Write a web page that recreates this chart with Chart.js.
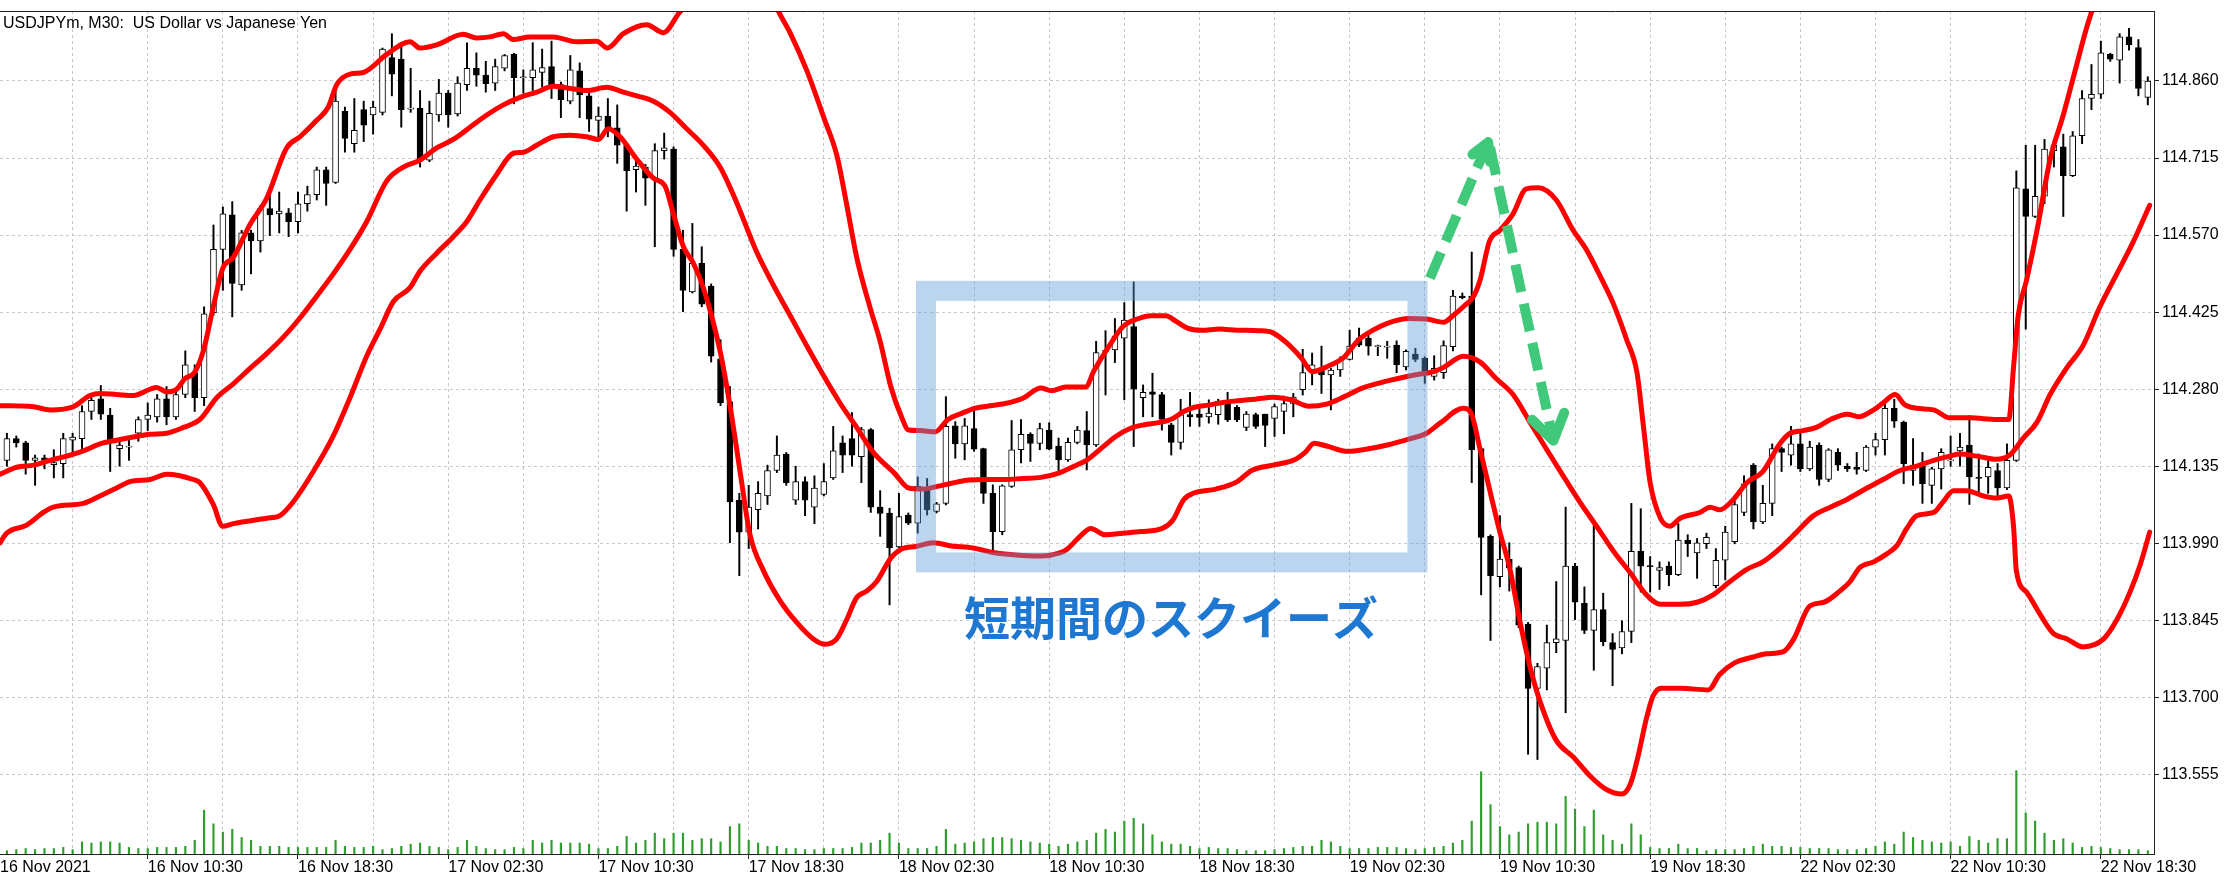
<!DOCTYPE html>
<html><head><meta charset="utf-8">
<style>html,body{margin:0;padding:0;background:#fff;overflow:hidden}canvas{display:block}</style>
<script src="https://cdn.jsdelivr.net/npm/chart.js@4.4.1/dist/chart.umd.min.js"></script>
</head><body>
<canvas id="c" width="2228" height="884"></canvas>
<script>
// ---- data: USDJPYm M30, first bar = 16 Nov 2021 03:00 ----
const chartTitle = 'USDJPYm, M30:  US Dollar vs Japanese Yen';
const firstDateLabel = '16 Nov 2021';
const xTickLabels = ['16 Nov 10:30','16 Nov 18:30','17 Nov 02:30','17 Nov 10:30','17 Nov 18:30','18 Nov 02:30','18 Nov 10:30','18 Nov 18:30','19 Nov 02:30','19 Nov 10:30','19 Nov 18:30','22 Nov 02:30','22 Nov 10:30','22 Nov 18:30'];
const xTickBars = [15,31,47,63,79,95,111,127,143,159,175,191,207,223];
const xGridBars = [7,15,23,31,39,47,55,63,71,79,87,95,103,111,119,127,135,143,151,159,167,175,183,191,199,207,215,223];
const yTicks = [113.555,113.700,113.845,113.990,114.135,114.280,114.425,114.570,114.715,114.860];

const opens = [114.146,114.187,114.179,114.146,114.151,114.138,114.140,114.184,114.187,114.238,
114.262,114.231,114.168,114.171,114.197,114.223,114.228,114.262,114.228,114.270,
114.311,114.264,114.424,114.543,114.608,114.476,114.574,114.559,114.620,114.610,
114.612,114.595,114.629,114.646,114.693,114.669,114.803,114.742,114.806,114.796,
114.801,114.904,114.901,114.807,114.809,114.711,114.796,114.837,114.798,114.853,
114.884,114.871,114.856,114.884,114.910,114.866,114.866,114.876,114.887,114.853,
114.822,114.879,114.832,114.786,114.794,114.772,114.739,114.693,114.698,114.677,
114.729,114.732,114.543,114.463,114.517,114.474,114.337,114.256,114.071,114.011,
114.053,114.079,114.127,114.158,114.071,114.106,114.058,114.082,114.113,114.179,
114.187,114.153,114.204,114.058,114.047,113.983,114.043,114.028,114.090,114.050,
114.065,114.211,114.177,114.206,114.168,114.084,114.012,114.097,114.166,114.195,
114.178,114.203,114.173,114.147,114.180,114.202,114.175,114.351,114.354,114.376,
114.398,114.264,114.275,114.270,114.213,114.180,114.232,114.233,114.228,114.232,
114.255,114.246,114.208,114.232,114.233,114.225,114.238,114.253,114.279,114.316,
114.317,114.307,114.316,114.336,114.376,114.376,114.360,114.359,114.363,114.322,
114.346,114.338,114.304,114.311,114.360,114.455,114.455,114.168,114.003,113.927,
113.960,113.944,113.838,113.717,113.755,113.803,113.807,113.947,113.877,113.826,
113.865,113.803,113.793,113.824,113.975,113.948,113.939,113.947,113.931,113.996,
113.972,113.989,113.910,113.958,113.993,114.048,114.137,114.030,114.065,114.168,
114.156,114.177,114.130,114.175,114.110,114.161,114.135,114.133,114.127,114.171,
114.185,114.244,114.218,114.127,114.137,114.099,114.130,114.145,114.164,114.175,
114.113,114.115,114.127,114.094,114.146,114.657,114.605,114.643,114.729,114.736,
114.682,114.757,114.827,114.835,114.910,114.899,114.943,114.923,114.829];

const highs = [114.197,114.192,114.182,114.156,114.156,114.166,114.197,114.197,114.249,114.264,
114.287,114.244,114.187,114.187,114.228,114.254,114.270,114.285,114.275,114.352,
114.326,114.435,114.589,114.623,114.633,114.579,114.579,114.626,114.649,114.651,
114.620,114.651,114.662,114.698,114.698,114.842,114.811,114.827,114.822,114.822,
114.922,114.949,114.932,114.884,114.842,114.822,114.863,114.842,114.868,114.932,
114.913,114.897,114.901,114.910,114.912,114.881,114.932,114.920,114.935,114.858,
114.908,114.894,114.837,114.811,114.827,114.815,114.742,114.719,114.703,114.742,
114.762,114.736,114.579,114.592,114.548,114.478,114.373,114.285,114.084,114.099,
114.106,114.137,114.192,114.161,114.135,114.115,114.117,114.140,114.210,114.192,
114.236,114.208,114.206,114.089,114.056,114.084,114.047,114.115,114.112,114.067,
114.266,114.219,114.225,114.247,114.169,114.100,114.100,114.221,114.223,114.198,
114.216,114.217,114.188,114.188,114.210,114.238,114.370,114.390,114.413,114.443,
114.482,114.288,114.310,114.274,114.216,114.261,114.274,114.250,114.260,114.261,
114.274,114.249,114.238,114.235,114.233,114.252,114.267,114.272,114.355,114.348,
114.361,114.319,114.341,114.391,114.395,114.382,114.363,114.370,114.371,114.354,
114.357,114.341,114.343,114.371,114.466,114.461,114.538,114.171,114.006,114.042,
113.991,113.947,113.841,113.764,113.836,113.918,114.058,113.952,113.908,114.024,
113.896,113.820,113.844,114.065,114.055,113.965,113.955,113.955,114.027,114.006,
113.999,114.009,113.980,114.022,114.073,114.117,114.140,114.099,114.177,114.171,
114.210,114.197,114.182,114.179,114.168,114.168,114.140,114.161,114.174,114.197,
114.261,114.261,114.220,114.187,114.161,114.133,114.168,114.192,114.197,114.230,
114.158,114.148,114.140,114.177,114.691,114.739,114.739,114.750,114.750,114.760,
114.765,114.842,114.891,114.935,114.912,114.949,114.959,114.938,114.868];

const lows = [114.135,114.171,114.120,114.099,114.130,114.113,114.113,114.161,114.161,114.223,
114.223,114.125,114.135,114.146,114.182,114.202,114.218,114.213,114.223,114.264,
114.238,114.249,114.419,114.466,114.416,114.466,114.497,114.538,114.569,114.574,
114.567,114.574,114.615,114.636,114.626,114.667,114.726,114.726,114.746,114.760,
114.796,114.832,114.773,114.801,114.698,114.708,114.784,114.773,114.794,114.842,
114.850,114.839,114.842,114.879,114.817,114.837,114.842,114.848,114.827,114.791,
114.817,114.791,114.765,114.755,114.755,114.705,114.615,114.651,114.626,114.548,
114.713,114.530,114.426,114.461,114.435,114.331,114.249,113.991,113.929,113.980,
114.017,114.063,114.123,114.099,114.063,114.042,114.027,114.079,114.110,114.123,
114.135,114.104,114.048,114.003,113.874,113.981,114.025,114.009,114.043,114.047,
114.062,114.150,114.147,114.163,114.065,113.974,114.006,114.095,114.141,114.144,
114.166,114.166,114.122,114.144,114.177,114.128,114.172,114.269,114.330,114.260,
114.172,114.228,114.228,114.203,114.156,114.167,114.210,114.210,114.216,114.214,
114.219,114.219,114.202,114.206,114.172,114.191,114.196,114.228,114.269,114.288,
114.272,114.241,114.304,114.335,114.360,114.344,114.343,114.338,114.311,114.316,
114.332,114.291,114.297,114.300,114.352,114.450,114.104,113.893,113.807,113.908,
113.900,113.831,113.593,113.583,113.714,113.784,113.671,113.846,113.820,113.751,
113.797,113.722,113.782,113.803,113.898,113.898,113.903,113.910,113.929,113.965,
113.924,113.980,113.906,113.921,113.989,114.042,114.017,114.027,114.042,114.125,
114.137,114.125,114.127,114.099,114.106,114.127,114.125,114.120,114.125,114.156,
114.156,114.208,114.102,114.099,114.065,114.065,114.092,114.135,114.135,114.063,
114.084,114.084,114.079,114.091,114.144,114.393,114.603,114.629,114.698,114.605,
114.680,114.742,114.806,114.827,114.897,114.856,114.918,114.832,114.815];

const closes = [114.187,114.179,114.146,114.151,114.146,114.142,114.187,114.190,114.238,114.259,
114.233,114.184,114.175,114.173,114.223,114.231,114.262,114.228,114.270,114.326,
114.264,114.422,114.543,114.610,114.479,114.574,114.559,114.620,114.608,114.615,
114.595,114.629,114.646,114.693,114.667,114.822,114.752,114.767,114.777,114.811,
114.920,114.873,114.806,114.809,114.711,114.799,114.837,114.796,114.856,114.884,
114.871,114.855,114.887,114.908,114.866,114.867,114.881,114.885,114.853,114.825,
114.881,114.834,114.788,114.794,114.770,114.739,114.691,114.700,114.677,114.729,
114.734,114.543,114.466,114.517,114.440,114.342,114.254,114.068,114.011,114.058,
114.084,114.127,114.156,114.104,114.106,114.071,114.094,114.106,114.164,114.156,
114.156,114.204,114.058,114.046,113.981,114.040,114.028,114.097,114.053,114.064,
114.210,114.177,114.211,114.167,114.084,114.012,114.098,114.166,114.195,114.178,
114.206,114.167,114.147,114.180,114.203,114.175,114.349,114.353,114.380,114.410,
114.280,114.274,114.270,114.223,114.180,114.232,114.228,114.227,114.235,114.257,
114.222,114.222,114.233,114.210,114.212,114.247,114.253,114.265,114.311,114.326,
114.307,114.316,114.336,114.361,114.363,114.361,114.361,114.361,114.326,114.351,
114.336,114.307,114.319,114.362,114.455,114.452,114.166,114.001,113.929,113.960,
113.944,113.836,113.717,113.758,113.803,113.810,113.947,113.879,113.826,113.865,
113.805,113.790,113.824,113.975,113.947,113.946,113.944,113.931,113.996,113.989,
113.991,114.001,113.958,114.011,114.063,114.102,114.030,114.065,114.168,114.161,
114.177,114.130,114.171,114.110,114.166,114.137,114.130,114.129,114.171,114.185,
114.244,114.220,114.140,114.137,114.102,114.130,114.161,114.146,114.171,114.115,
114.112,114.133,114.094,114.146,114.659,114.605,114.643,114.732,114.739,114.682,
114.757,114.827,114.835,114.913,114.901,114.943,114.928,114.846,114.860];

const volumes = [6,8,10,8,10,10,12,8,22,20,
22,22,20,12,10,10,12,12,12,14,
25,80,55,40,45,30,25,14,14,14,
12,12,12,12,12,25,14,12,12,14,
8,10,14,18,20,14,12,8,12,25,
14,10,8,8,12,10,25,20,25,20,
20,20,18,10,10,14,32,20,25,38,
28,38,38,25,28,28,22,50,55,25,
20,14,14,10,10,8,8,10,10,10,
12,20,20,25,38,20,10,10,10,14,
45,18,20,22,28,30,30,28,25,22,
20,18,14,18,22,25,38,45,40,60,
65,55,35,22,18,18,14,10,12,10,
10,8,6,6,6,8,10,12,14,14,
25,22,14,10,10,10,12,12,12,10,
8,10,12,14,20,25,60,150,90,50,
35,40,55,58,58,55,105,82,50,80,
35,25,18,55,35,12,10,10,18,10,
10,6,8,8,8,10,14,18,14,14,
12,12,10,10,10,8,8,8,10,14,
22,18,40,30,25,22,20,22,14,32,
25,20,28,28,152,75,60,38,25,28,
20,12,14,12,10,8,8,8,6];

// Bollinger Bands (20, 2): [bar, price]
const upperBand = [[-0.73,114.249],[2.82,114.247],[4.59,114.241],[7.07,114.247],[8.85,114.268],[9.91,114.272],[11.69,114.270],[13.46,114.268],[15.95,114.283],[17.01,114.275],[18.08,114.280],[18.97,114.300],[19.96,114.311],[20.92,114.352],[21.98,114.435],[22.98,114.507],[24.11,114.528],[25.89,114.590],[27.66,114.639],[29.79,114.734],[31.21,114.755],[32.99,114.786],[34.23,114.811],[35.12,114.853],[36.54,114.873],[37.96,114.876],
[40.45,114.910],[42.93,114.934],[43.99,114.922],[45.77,114.928],[48.61,114.948],[50.03,114.941],[51.45,114.943],[52.87,114.949],[53.93,114.938],[55.71,114.943],[58.19,114.943],[60.68,114.934],[62.81,114.935],[63.94,114.922],[65.65,114.949],[68.13,114.966],[69.91,114.951],[71.68,114.990],
[73.5,115.02],[75.5,115.04],[77.5,115.06],[79.5,115.07],[81,115.04],
[82.0,114.997],[83.4,114.951],[85.2,114.879],[87.0,114.791],[88.4,114.719],[89.4,114.631],[90.5,114.528],[91.9,114.435],[93.0,114.37],[94.13,114.285],[95.27,114.228],[96.03,114.203],[97.17,114.202],[98.89,114.200],[100.22,114.223],[101.74,114.235],[103.07,114.244],[104.40,114.248],[106.30,114.253],[108.21,114.263],[110.11,114.282],[111.25,114.277],[112.77,114.284],[114.86,114.284],[115.81,114.316],[117.34,114.360],[118.86,114.398],[120.38,114.412],[121.90,114.418],[123.42,114.418],[124.56,114.407],[125.71,114.395],[127.23,114.391],[129.13,114.393],[131.03,114.391],[133.31,114.390],[134.83,114.386],[136.36,114.366],[137.88,114.338],[139.01,114.313],[140.54,114.322],[142.44,114.341],[143.96,114.373],[145.48,114.391],[147.01,114.404],[149.29,114.413],[151.19,114.412],
[153.0,114.406],[154.05,114.419],[155.1,114.435],[156.2,114.455],[156.9,114.486],[157.9,114.559],
[159.0,114.579],[160.4,114.610],[161.8,114.657],[163.1,114.659],[165.0,114.636],[166.8,114.579],[168.2,114.543],[169.7,114.492],[171.1,114.440],[172.5,114.373],[173.6,114.311],[174.3,114.208],[175.0,114.104],[176.1,114.037],[177.1,114.022],[178.2,114.037],[180.3,114.048],[181.4,114.058],[182.4,114.053],[183.9,114.073],[185.3,114.104],[187.0,114.125],[188.8,114.177],[189.9,114.197],[191.3,114.202],[192.7,114.208],[194.2,114.223],[196.0,114.233],
[197.2,114.228],[198.8,114.241],[199.8,114.254],[201.1,114.270],[202.1,114.251],[203.4,114.244],[205.2,114.241],[206.9,114.226],[209.1,114.226],[211.9,114.223],[213.2,114.223],[213.7,114.321],[214.2,114.419],[215.1,114.486],[216.2,114.579],[217.6,114.713],[219.0,114.796],[220.4,114.889],[221.5,114.961],[223,115.04],[225,115.12],[228.2,115.24]];

const middleBand = [[-0.73,114.120],[1.04,114.133],[2.82,114.137],[4.59,114.146],[6.36,114.154],[8.14,114.164],[9.91,114.177],[11.69,114.184],[13.46,114.190],[15.24,114.195],[17.01,114.197],[18.79,114.208],[20.56,114.223],[22.34,114.264],[24.11,114.290],[25.89,114.319],[27.66,114.347],[29.44,114.378],[31.21,114.414],[32.99,114.455],[34.76,114.497],[36.54,114.543],[38.31,114.595],
[40.45,114.672],[42.22,114.698],[43.99,114.711],[45.77,114.734],[47.54,114.750],[49.32,114.773],[51.10,114.796],[52.87,114.815],[54.64,114.829],[56.42,114.839],[58.19,114.850],[59.97,114.846],[61.75,114.842],[63.88,114.848],[65.65,114.839],[67.07,114.832],[68.85,114.822],[70.62,114.801],[72.40,114.770],[74.17,114.739],[75.95,114.698],[77.72,114.631],
[79.85,114.538],[81.62,114.476],[83.40,114.419],[85.17,114.362],[86.95,114.306],[88.72,114.254],[90.50,114.208],[92.27,114.161],
[94.51,114.122],[96.03,114.094],[97.55,114.092],[99.08,114.097],[100.60,114.103],[102.50,114.109],[104.40,114.110],[106.30,114.110],[108.21,114.112],[110.11,114.114],[112.01,114.122],[113.91,114.137],[115.05,114.147],[116.57,114.169],[118.09,114.191],[119.61,114.206],[121.14,114.213],[122.66,114.217],[124.18,114.225],[125.32,114.238],[126.47,114.246],[127.99,114.250],[129.51,114.255],[131.03,114.258],[132.93,114.261],[134.83,114.265],[136.74,114.260],[138.64,114.248],[140.54,114.252],[142.44,114.266],[144.34,114.282],[146.25,114.292],[148.15,114.300],[150.05,114.307],[151.95,114.313],
[153.0,114.321],[155.1,114.342],[156.9,114.331],[158.6,114.300],[160.4,114.270],[162.2,114.218],[164.0,114.166],[165.8,114.115],[167.5,114.068],[169.3,114.022],[171.1,113.975],[172.9,113.934],[174.6,113.893],[176.1,113.875],[178.2,113.875],[180.0,113.879],[181.7,113.893],[183.5,113.918],[185.3,113.941],[187.0,113.955],[188.8,113.980],[190.6,114.011],[192.4,114.042],[194.2,114.058],[196.0,114.073],
[198.1,114.094],[199.8,114.110],[201.6,114.127],[203.4,114.135],[205.2,114.146],[206.9,114.154],[208.0,114.158],[209.8,114.154],[211.9,114.148],[213.3,114.156],[214.7,114.187],[216.2,114.218],[217.6,114.270],[219.4,114.321],[221.1,114.362],[222.9,114.435],[224.7,114.497],[226.5,114.559],[228.2,114.626]];

const lowerBand = [[-0.73,113.991],[-0.02,114.009],[2.10,114.024],[3.88,114.048],[4.95,114.058],[8.14,114.065],[9.91,114.079],[11.69,114.094],[13.11,114.106],[15.24,114.110],[17.01,114.120],[19.85,114.110],[20.56,114.104],[21.98,114.063],[22.98,114.022],[24.11,114.027],[27.66,114.037],[29.08,114.042],[30.50,114.068],[32.63,114.125],[34.76,114.192],[36.54,114.264],[38.31,114.342],
[39.74,114.393],[41.16,114.445],[42.93,114.471],[43.99,114.502],[45.77,114.536],[47.54,114.567],[48.96,114.595],[50.38,114.636],[52.16,114.684],[53.93,114.724],[55.00,114.726],[56.42,114.739],[58.19,114.755],[59.97,114.758],[61.75,114.755],[62.99,114.750],[64.05,114.770],[65.30,114.755],[67.07,114.713],[68.85,114.677],[70.09,114.662],[70.98,114.610],[72.05,114.548],[73.11,114.517],[74.17,114.471],[75.95,114.352],[77.01,114.249],[78.08,114.125],[79.14,114.006],
[80.56,113.939],[82.33,113.882],[84.11,113.841],[85.88,113.810],[87.13,113.800],[88.37,113.810],[89.43,113.846],[90.50,113.888],[91.56,113.900],[92.63,113.918],
[94.13,113.962],[95.27,113.979],[96.79,113.984],[98.69,113.991],[100.60,113.985],[102.88,113.981],[105.16,113.972],[107.44,113.968],[109.73,113.966],[111.25,113.968],[112.77,113.977],[114.29,114.003],[115.43,114.018],[116.95,114.006],[118.86,114.009],[120.76,114.012],[123.04,114.018],[124.18,114.034],[125.32,114.072],[126.47,114.085],[128.75,114.092],[131.03,114.106],[132.55,114.127],[134.83,114.137],[137.12,114.147],[138.26,114.161],[139.21,114.178],[140.54,114.173],[142.82,114.163],[144.72,114.167],[147.01,114.175],[149.29,114.186],[151.19,114.197],[152.63,114.216],
[155.1,114.244],[155.9,114.236],[156.9,114.166],[158.0,114.084],[159.0,114.011],[160.1,113.939],[161.1,113.846],[162.2,113.758],[163.3,113.691],[165.0,113.619],[166.8,113.588],[168.6,113.552],[170.4,113.526],[171.98,113.518],[172.9,113.537],[173.7,113.588],[174.6,113.660],[175.3,113.702],[176.2,113.717],[178.2,113.717],[181.2,113.714],[182.4,113.743],[183.9,113.764],[186.0,113.776],[187.4,113.782],[189.2,113.786],[190.3,113.810],[192.0,113.872],[193.5,113.879],[195.2,113.900],[196.3,113.918],[197.3,113.944],
[198.8,113.955],[200.2,113.970],[201.3,113.986],[202.3,114.017],[203.4,114.042],[205.2,114.048],[206.2,114.068],[207.3,114.089],[208.7,114.089],[210.5,114.079],[211.9,114.075],[213.2,114.079],[213.7,114.022],[214.0,113.939],[215.1,113.898],[216.5,113.857],[217.9,113.821],[219.4,113.810],[221.1,113.795],[223.3,113.810],[224.7,113.846],[226.1,113.898],[227.2,113.950],[228.2,114.011]];

// annotations (in bar / price coordinates)
const squeezeBox = {fromBar: 97.88, toBar: 150.22, top: 114.465, bottom: 113.954};
const squeezeLabel = {text: '短期間のスクイーズ', bar: 123.97, price: 113.851};
const arrowUp = {from: [151.55, 114.489], to: [157.75, 114.745]};
const arrowDown = {from: [157.95, 114.735], to: [164.70, 114.183]};

// ---- view settings ----
const X_MIN = -0.735, X_MAX = 228.66;
const Y_MIN = 113.4052, Y_MAX = 114.9917;
const VOL_AXIS_MAX = 1537;
const AXIS_FONT = {family: 'Liberation Sans', size: 16};

const barIndex = opens.map((_, i) => i);
const wickData = barIndex.map(i => ({x: i, y: [lows[i], highs[i]]}));
const bodyData = barIndex.map(i => ({x: i, y: [opens[i], closes[i]]}));
const bodyColors = barIndex.map(i => closes[i] >= opens[i] ? '#ffffff' : '#000000');
const volData = barIndex.map(i => ({x: i, y: volumes[i]}));
const toXY = arr => arr.map(([x, y]) => ({x, y}));

const isFirst = v => Math.abs(v - X_MIN) < 1e-6;
const labelFor = v => {
  if (isFirst(v)) return firstDateLabel;
  const k = xTickBars.indexOf(Math.round(v));
  return (k >= 0 && Math.abs(v - xTickBars[k]) < 1e-6) ? xTickLabels[k] : '';
};

function drawArrow(ctx, ax, ay, bx, by, L, spread) {
  ctx.setLineDash([28, 12]);
  ctx.lineCap = 'butt';
  ctx.beginPath(); ctx.moveTo(ax, ay); ctx.lineTo(bx, by); ctx.stroke();
  ctx.setLineDash([]);
  const ang = Math.atan2(by - ay, bx - ax);
  ctx.lineJoin = 'round'; ctx.lineCap = 'round';
  ctx.beginPath();
  ctx.moveTo(bx - L * Math.cos(ang - spread), by - L * Math.sin(ang - spread));
  ctx.lineTo(bx, by);
  ctx.lineTo(bx - L * Math.cos(ang + spread), by - L * Math.sin(ang + spread));
  ctx.stroke();
}

const overlayPlugin = {
  id: 'overlay',
  afterDatasetsDraw(chart) {
    const {ctx, chartArea: a} = chart;
    const x = chart.scales.x, y = chart.scales.y;
    ctx.save();
    ctx.beginPath(); ctx.rect(a.left, a.top, a.right - a.left, a.bottom - a.top); ctx.clip();
    // squeeze box
    const bx0 = x.getPixelForValue(squeezeBox.fromBar), bx1 = x.getPixelForValue(squeezeBox.toBar);
    const by0 = y.getPixelForValue(squeezeBox.top), by1 = y.getPixelForValue(squeezeBox.bottom);
    ctx.strokeStyle = 'rgba(91,155,213,0.42)';
    ctx.lineWidth = 20; ctx.lineJoin = 'miter';
    ctx.strokeRect(bx0, by0, bx1 - bx0, by1 - by0);
    // label
    ctx.fillStyle = '#1e78d2';
    ctx.font = 'bold 46px "Noto Sans CJK JP"';
    ctx.textAlign = 'center'; ctx.textBaseline = 'middle';
    ctx.fillText(squeezeLabel.text, x.getPixelForValue(squeezeLabel.bar), y.getPixelForValue(squeezeLabel.price));
    // arrows
    ctx.strokeStyle = '#41c97b'; ctx.lineWidth = 10;
    drawArrow(ctx, x.getPixelForValue(arrowUp.from[0]), y.getPixelForValue(arrowUp.from[1]),
                   x.getPixelForValue(arrowUp.to[0]), y.getPixelForValue(arrowUp.to[1]), 20, 0.5);
    drawArrow(ctx, x.getPixelForValue(arrowDown.from[0]), y.getPixelForValue(arrowDown.from[1]),
                   x.getPixelForValue(arrowDown.to[0]), y.getPixelForValue(arrowDown.to[1]), 30, 0.58);
    ctx.restore();
  },
  afterDraw(chart) {
    const {ctx, chartArea: a} = chart;
    ctx.save();
    ctx.strokeStyle = '#222'; ctx.lineWidth = 1;
    ctx.beginPath(); ctx.moveTo(0, Math.round(a.top) + 0.5); ctx.lineTo(a.right, Math.round(a.top) + 0.5); ctx.stroke();
    ctx.fillStyle = '#000';
    ctx.font = '16px "Liberation Sans"';
    ctx.textAlign = 'left'; ctx.textBaseline = 'middle';
    ctx.fillText(chartTitle, 3, 24);
    ctx.restore();
  }
};

new Chart(document.getElementById('c'), {
  type: 'bar',
  data: {
    datasets: [
      {type: 'line', label: 'Upper', data: toXY(upperBand), borderColor: '#ff0000', borderWidth: 5, pointRadius: 0, cubicInterpolationMode: 'monotone', clip: 0, order: 0, borderJoinStyle: 'round', borderCapStyle: 'round'},
      {type: 'line', label: 'Middle', data: toXY(middleBand), borderColor: '#ff0000', borderWidth: 5, pointRadius: 0, cubicInterpolationMode: 'monotone', clip: 0, order: 0, borderJoinStyle: 'round', borderCapStyle: 'round'},
      {type: 'line', label: 'Lower', data: toXY(lowerBand), borderColor: '#ff0000', borderWidth: 5, pointRadius: 0, cubicInterpolationMode: 'monotone', clip: 0, order: 0, borderJoinStyle: 'round', borderCapStyle: 'round'},
      {type: 'bar', label: 'Body', data: bodyData, backgroundColor: bodyColors, borderColor: '#000', borderWidth: 1, borderSkipped: false, barThickness: 6, grouped: false, minBarLength: 1, order: 1},
      {type: 'bar', label: 'Wick', data: wickData, backgroundColor: '#000', borderWidth: 0, barThickness: 1.3, grouped: false, order: 2},
      {type: 'bar', label: 'Volume', data: volData, yAxisID: 'yv', backgroundColor: '#2f9e2f', borderWidth: 0, barThickness: 1.5, grouped: false, order: 3}
    ]
  },
  options: {
    responsive: false, animation: false, devicePixelRatio: 1,
    layout: {padding: {top: 11, left: 0, right: 0, bottom: 0}},
    plugins: {legend: {display: false}, tooltip: {enabled: false}, title: {display: false}},
    scales: {
      x: {
        type: 'linear', min: X_MIN, max: X_MAX, offset: false, bounds: 'data',
        grid: {
          offset: false, lineWidth: 1, drawTicks: true, tickLength: 5, tickWidth: 1,
          color: c => (c.tick && isFirst(c.tick.value)) ? 'rgba(0,0,0,0)' : '#c8c8c8',
          tickColor: c => (c.tick && !isFirst(c.tick.value) && labelFor(c.tick.value) !== '') ? '#222' : 'rgba(0,0,0,0)'
        },
        border: {display: true, color: '#222', width: 1, dash: [3, 3]},
        ticks: {autoSkip: false, maxRotation: 0, minRotation: 0, align: 'start', padding: -1, color: '#000', font: AXIS_FONT, callback: v => labelFor(v)},
        afterBuildTicks: s => { s.ticks = [{value: X_MIN}].concat(xGridBars.map(v => ({value: v}))); },
        afterFit: s => { s.height = 30; s.paddingLeft = 0; s.paddingRight = 0; }
      },
      y: {
        type: 'linear', position: 'right', min: Y_MIN, max: Y_MAX, bounds: 'data', beginAtZero: false,
        grid: {color: '#c8c8c8', lineWidth: 1, drawTicks: true, tickLength: 5, tickColor: '#222'},
        border: {display: true, color: '#222', width: 1, dash: [3, 3]},
        ticks: {padding: 3, color: '#000', font: AXIS_FONT, callback: v => Number(v).toFixed(3)},
        afterBuildTicks: s => { s.ticks = yTicks.map(v => ({value: v})); },
        afterFit: s => { s.width = 74; s.paddingTop = 0; s.paddingBottom = 0; }
      },
      yv: {type: 'linear', display: false, min: 0, max: VOL_AXIS_MAX, beginAtZero: true}
    }
  },
  plugins: [overlayPlugin]
});
</script>
</body></html>
